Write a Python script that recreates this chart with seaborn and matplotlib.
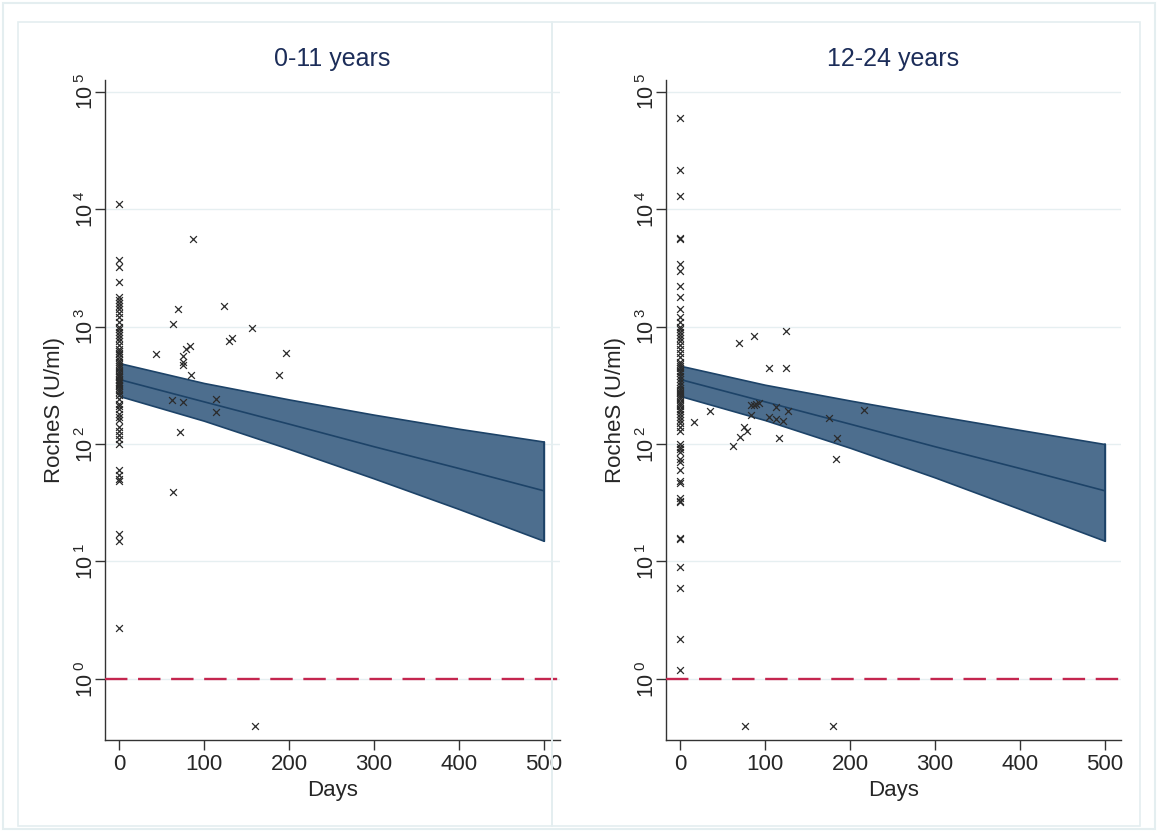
import seaborn as sns
import matplotlib.pyplot as plt
import pandas as pd
from matplotlib.patches import Rectangle

# ---- values ----
panel_titles = ["0-11 years", "12-24 years"]

# 0-11 years: samples at day 0
young_day0_vals = [11000, 3700, 3200, 2400, 1800, 1700, 1600, 1500, 1400, 1300,
                   1200, 1100, 1000, 950, 900, 850, 800, 750, 700, 650, 620,
                   600, 580, 550, 520, 500, 480, 460, 440, 420, 400, 390, 380,
                   370, 360, 350, 340, 330, 320, 310, 300, 290, 280, 260, 240,
                   220, 210, 200, 180, 170, 160, 140, 130, 120, 110, 100, 60,
                   55, 50, 48, 17, 15, 2.7]
# 0-11 years: later samples
young_days = [87, 70, 64, 124, 156, 129, 133, 79, 83, 43, 197, 75, 75, 75, 85,
              188, 62, 75, 114, 114, 72, 63, 160]
young_vals = [5600, 1420, 1050, 1490, 980, 750, 800, 650, 690, 590, 600, 560,
              500, 470, 385, 390, 235, 230, 240, 186, 127, 39, 0.4]

# 12-24 years: samples at day 0
old_day0_vals = [60000, 21500, 13000, 5700, 5600, 3400, 3000, 2200, 1800, 1400,
                 1200, 1100, 1000, 950, 900, 850, 800, 750, 700, 650, 600, 550,
                 500, 480, 460, 440, 420, 400, 380, 360, 340, 320, 300, 290,
                 280, 270, 260, 250, 240, 230, 220, 210, 200, 190, 180, 170,
                 160, 150, 140, 130, 100, 95, 90, 85, 75, 70, 60, 48, 47, 35,
                 33, 32, 16, 15.5, 9, 6, 2.2, 1.2]
# 12-24 years: later samples
old_days = [17, 35, 69, 87, 125, 105, 125, 84, 87, 90, 93, 84, 113, 127, 105,
            113, 121, 75, 79, 71, 62, 117, 175, 217, 185, 183, 77, 180]
old_vals = [155, 192, 720, 830, 910, 440, 445, 213, 215, 220, 224, 178, 208,
            190, 170, 164, 158, 141, 128, 114, 97, 113, 166, 196, 112, 75, 0.4,
            0.4]

# fitted decline with 95% band
fit_days = [0, 100, 200, 300, 400, 500]
young_fit = [355, 229, 148, 95, 62, 40]
young_lo = [257, 158, 91, 51, 28, 15]
young_hi = [490, 331, 240, 178, 135, 105]
old_fit = [355, 229, 148, 95, 62, 40]
old_lo = [257, 160, 93, 52, 28, 15]
old_hi = [465, 320, 235, 175, 132, 100]

ytick_exps = [0, 1, 2, 3, 4, 5]
xticks = [0, 100, 200, 300, 400, 500]


def make_points(day0_vals, days, vals):
    d = [0] * len(day0_vals) + list(days)
    v = list(day0_vals) + list(vals)
    return pd.DataFrame({"Days": d, "RocheS": v})


panels = [
    (make_points(young_day0_vals, young_days, young_vals),
     pd.DataFrame({"Days": fit_days, "fit": young_fit, "lo": young_lo, "hi": young_hi})),
    (make_points(old_day0_vals, old_days, old_vals),
     pd.DataFrame({"Days": fit_days, "fit": old_fit, "lo": old_lo, "hi": old_hi})),
]

sns.set_theme(style="white")
plt.rcParams['font.family'] = ['Liberation Sans', 'DejaVu Sans']
plt.rcParams['mathtext.fontset'] = 'custom'
plt.rcParams['mathtext.rm'] = 'Liberation Sans'
plt.rcParams['mathtext.it'] = 'Liberation Sans'

fig = plt.figure(figsize=(11.58, 8.32), dpi=100)

# stata-like region frames
frame = "#e4eef0"
fig.patches.append(Rectangle((3 / 1158, 3 / 832), 1152 / 1158, 826 / 832,
                             transform=fig.transFigure, fill=False, ec=frame, lw=1.5))
fig.patches.append(Rectangle((18 / 1158, 6 / 832), 534 / 1158, 804 / 832,
                             transform=fig.transFigure, fill=False, ec=frame, lw=1.2))
fig.patches.append(Rectangle((552 / 1158, 6 / 832), 588 / 1158, 804 / 832,
                             transform=fig.transFigure, fill=False, ec=frame, lw=1.2))

lefts = [105 / 1158, 666 / 1158]
band_face = "#4d6e8e"
band_edge = "#1d4368"

for i, (pts, fit) in enumerate(panels):
    ax = fig.add_axes([lefts[i], 1 - 740 / 832, 455 / 1158, 660 / 832])
    ax.set_yscale("log")

    ax.fill_between(fit["Days"], fit["lo"], fit["hi"], color=band_face,
                    ec=band_edge, lw=1.2, zorder=2)
    sns.lineplot(data=fit, x="Days", y="fit", ax=ax, color=band_edge, lw=1.2,
                 zorder=3)
    ax.plot([500, 500], [fit["lo"].iloc[-1], fit["hi"].iloc[-1]],
            color=band_edge, lw=1.2, zorder=3)

    sns.scatterplot(data=pts, x="Days", y="RocheS", ax=ax, marker="x",
                    color="#2b2b2b", s=24, linewidth=0.9, zorder=4)

    ax.axhline(1, color="#c4264f", lw=1.7, ls=(0, (9.5, 4.5)), zorder=3)

    ax.set_xlim(-16.5, 519)
    ax.set_ylim(10 ** -0.52, 10 ** 5.10)
    ax.set_xticks(xticks)
    ax.set_xticklabels([str(t) for t in xticks], fontsize=16)
    ax.set_yticks([10 ** e for e in ytick_exps])
    ax.set_yticklabels([r"$10^{\;%d}$" % e for e in ytick_exps], fontsize=15.5,
                       rotation=90, va="center")
    ax.minorticks_off()
    ax.yaxis.set_minor_locator(plt.NullLocator())
    ax.tick_params(axis="x", direction="out", length=7, width=1,
                   color="#333333", bottom=True, pad=3)
    ax.tick_params(axis="y", direction="out", length=7, width=1,
                   color="#333333", left=True, pad=-2)

    ax.yaxis.grid(True, color="#e6eff1", lw=1)
    ax.set_axisbelow(True)
    for s in ["top", "right"]:
        ax.spines[s].set_visible(False)
    for s in ["left", "bottom"]:
        ax.spines[s].set_color("#333333")
        ax.spines[s].set_linewidth(1)

    ax.set_xlabel("Days", fontsize=16, labelpad=4)
    ax.set_ylabel("RocheS (U/ml)", fontsize=16)
    ax.yaxis.set_label_coords(-0.088, 0.5)
    ax.set_title(panel_titles[i], fontsize=18, color="#1c2d59", pad=10)

fig.savefig("out.png", dpi=100)
